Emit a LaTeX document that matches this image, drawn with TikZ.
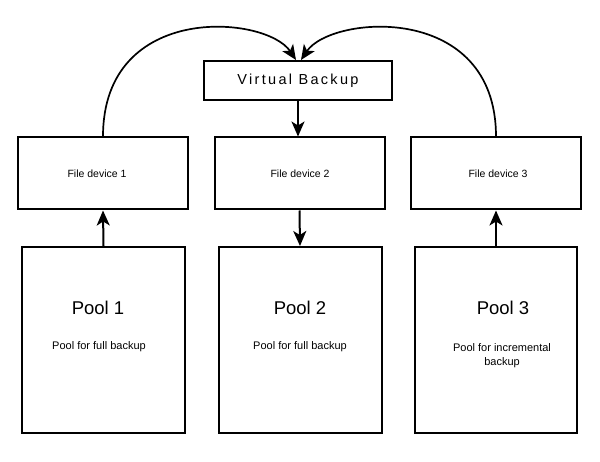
\documentclass[tikz,border=0pt]{standalone}
\usepackage{fontspec}
\setmainfont{Liberation Sans}
\usetikzlibrary{arrows.meta}
\begin{document}
\begin{tikzpicture}[x=1pt,y=-1pt,
  box/.style={draw,line width=2pt,inner sep=0pt},
  conn/.style={line width=2pt,-{Stealth[length=15pt,width=13pt,inset=4pt]}},
  arc/.style={line width=1.7pt,-{Stealth[length=15pt,width=13pt,inset=4pt]}},
  fdtext/.style={font=\fontsize{10.5}{12}\selectfont},
  pooltitle/.style={font=\fontsize{18.5}{22}\selectfont},
  poolsub/.style={font=\fontsize{11}{14}\selectfont,align=center}]
\useasboundingbox (0,0) rectangle (600,462);
\fill[white] (0,0) rectangle (600,462);
% Virtual backup
\node[box,minimum width=188pt,minimum height=39pt] (vb) at (298,80.5)
  {\fontsize{14.5}{17}\selectfont\addfontfeature{LetterSpace=16}Virtual Backup};
% File devices
\node[box,minimum width=170pt,minimum height=72pt] (fd1) at (103,173.5) {};
\node[box,minimum width=170pt,minimum height=72pt] (fd2) at (299.5,173.5) {};
\node[box,minimum width=170pt,minimum height=72pt] (fd3) at (496,173.5) {};
\node[fdtext] (fd1t) at (97,174) {File device 1};
\node[fdtext] (fd2t) at (300,174) {File device 2};
\node[fdtext] (fd3t) at (498,174) {File device 3};
% Pools
\node[box,minimum width=163pt,minimum height=186pt] (p1) at (103.5,340) {};
\node[box,minimum width=163pt,minimum height=186pt] (p2) at (300,340) {};
\node[box,minimum width=162pt,minimum height=186pt] (p3) at (496,340) {};
\node[pooltitle] (p1t) at (98,308) {Pool 1};
\node[pooltitle] (p2t) at (300,308) {Pool 2};
\node[pooltitle] (p3t) at (503,308) {Pool 3};
\node[poolsub] (p1s) at (99,347) {Pool for full backup};
\node[poolsub] (p2s) at (300,347) {Pool for full backup};
\node[poolsub,anchor=north] (p3s) at (502,340) {Pool for incremental\\backup};
% connectors
\draw[conn] (p1.north) -- (fd1.south);
\draw[conn] (fd2.south) -- (p2.north);
\draw[conn] (p3.north) -- (fd3.south);
\draw[conn] (vb.south) -- (vb.south |- fd2.north);
\coordinate (vbl) at ([xshift=-2pt]vb.north);
\coordinate (vbr) at ([xshift=3pt]vb.north);
\draw[arc] (fd1.north) .. controls +(0,-135) and +(-30,-45) .. (vbl);
\draw[arc] (fd3.north) .. controls +(0,-135) and +(30,-45) .. (vbr);
\end{tikzpicture}
\end{document}
